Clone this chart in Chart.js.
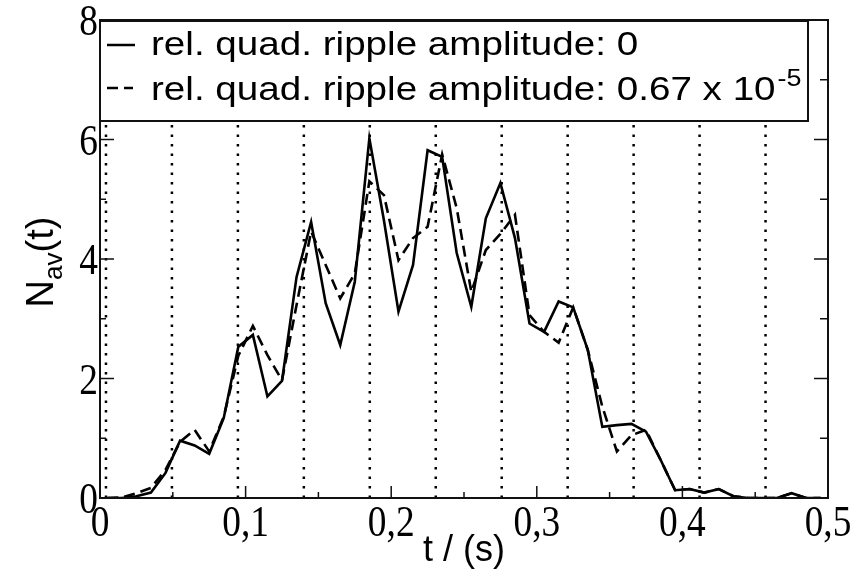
<!DOCTYPE html>
<html>
<head>
<meta charset="utf-8">
<script src="https://cdn.jsdelivr.net/npm/chart.js@4.4.1/dist/chart.umd.min.js"></script>
<style>
  html, body { margin: 0; padding: 0; background: #fff; }
</style>
</head>
<body>
<canvas id="grafico" width="867" height="574"></canvas>
<script>
// tiempos (s), centro de cada intervalo
const tiempos = [0.005, 0.015, 0.025, 0.035, 0.045, 0.055, 0.065, 0.075, 0.085, 0.095,
  0.105, 0.115, 0.125, 0.135, 0.145, 0.155, 0.165, 0.175, 0.185, 0.195,
  0.205, 0.215, 0.225, 0.235, 0.245, 0.255, 0.265, 0.275, 0.285, 0.295,
  0.305, 0.315, 0.325, 0.335, 0.345, 0.355, 0.365, 0.375, 0.385, 0.395,
  0.405, 0.415, 0.425, 0.435, 0.445, 0.455, 0.465, 0.475, 0.485, 0.495];

// amplitud de rizado 0 (linea continua)
const nSinRizado = [0, 0, 0.03, 0.09, 0.42, 0.96, 0.88, 0.74, 1.34, 2.53,
  2.73, 1.70, 1.96, 3.70, 4.62, 3.26, 2.56, 3.62, 6.02, 4.65,
  3.12, 3.90, 5.82, 5.71, 4.10, 3.20, 4.68, 5.27, 4.35, 2.92,
  2.78, 3.29, 3.19, 2.48, 1.19, 1.22, 1.24, 1.11, 0.64, 0.13,
  0.15, 0.09, 0.15, 0.03, 0, 0, 0, 0.08, 0, 0];

// amplitud de rizado 0.67e-5 (linea discontinua)
const nConRizado = [0, 0.01, 0.08, 0.17, 0.47, 0.94, 1.14, 0.78, 1.36, 2.38,
  2.88, 2.39, 1.97, 3.23, 4.46, 3.90, 3.34, 3.76, 5.30, 5.07,
  3.98, 4.35, 4.54, 5.75, 4.85, 3.45, 4.15, 4.42, 4.74, 3.06,
  2.78, 2.60, 3.19, 2.48, 1.53, 0.78, 1.05, 1.14, 0.64, 0.13,
  0.15, 0.09, 0.15, 0.03, 0, 0, 0, 0.08, 0, 0];

// lineas verticales punteadas
const marcasPunteadas = [0.0041, 0.0494, 0.0947, 0.1400, 0.1853, 0.2306, 0.2759, 0.3212, 0.3665, 0.4118, 0.4571];

const etiquetasSerie = ['rel. quad. ripple amplitude: 0', 'rel. quad. ripple amplitude: 0.67 x 10'];
const superindices = ['', '-5'];

const ticksX = [0, 0.1, 0.2, 0.3, 0.4, 0.5];
const menoresX = [0.05, 0.15, 0.25, 0.35, 0.45];
const ticksY = [0, 2, 4, 6, 8];
const menoresY = [1, 3, 5, 7];

const SERIF = '"Liberation Serif", "Times New Roman", serif';
const SANS = '"Liberation Sans", Arial, sans-serif';

function aPuntos(ys) {
  return tiempos.map((t, i) => ({ x: t, y: ys[i] }));
}

function textoEscalado(ctx, texto, x, y, sx, align) {
  ctx.save();
  ctx.translate(x, y);
  ctx.scale(sx, 1);
  ctx.textAlign = align;
  ctx.fillText(texto, 0, 0);
  ctx.restore();
}

function linea(ctx, x1, y1, x2, y2) {
  ctx.beginPath();
  ctx.moveTo(x1, y1);
  ctx.lineTo(x2, y2);
  ctx.stroke();
}

const decoracion = {
  id: 'decoracion',
  afterDatasetsDraw(chart) {
    const { ctx, chartArea: a, scales: { x, y } } = chart;
    ctx.save();
    ctx.strokeStyle = '#111';
    ctx.fillStyle = '#000';

    // marcas de los ejes (hacia dentro)
    ctx.lineWidth = 1.5;
    ticksX.forEach(v => { const p = x.getPixelForValue(v); linea(ctx, p, a.bottom, p, a.bottom - 12); });
    menoresX.forEach(v => { const p = x.getPixelForValue(v); linea(ctx, p, a.bottom, p, a.bottom - 6); });
    ticksY.forEach(v => {
      const p = y.getPixelForValue(v);
      linea(ctx, a.left, p, a.left + 14, p);
      linea(ctx, a.right, p, a.right - 14, p);
    });
    menoresY.forEach(v => {
      const p = y.getPixelForValue(v);
      linea(ctx, a.left, p, a.left + 6, p);
      linea(ctx, a.right, p, a.right - 8, p);
    });

    // marco
    ctx.lineWidth = 2;
    ctx.strokeRect(a.left, a.top, a.right - a.left, a.bottom - a.top);

    // etiquetas de los ejes
    ctx.font = '44px ' + SERIF;
    ctx.textBaseline = 'alphabetic';
    ticksX.forEach(v => {
      const txt = v === 0 ? '0' : v.toFixed(1).replace('.', ',');
      textoEscalado(ctx, txt, x.getPixelForValue(v), a.bottom + 38, 0.85, 'center');
    });
    ticksY.forEach(v => {
      textoEscalado(ctx, String(v), a.left - 2, y.getPixelForValue(v) + 15, 0.85, 'right');
    });

    // titulo eje x
    ctx.font = '36px ' + SANS;
    ctx.textAlign = 'center';
    ctx.fillText('t / (s)', (a.left + a.right) / 2, 561);

    // titulo eje y: N_av(t)
    ctx.save();
    ctx.translate(53, 262);
    ctx.rotate(-Math.PI / 2);
    ctx.textAlign = 'left';
    const fGrande = '38px ' + SANS, fSub = '26px ' + SANS;
    ctx.font = fGrande; const wN = ctx.measureText('N').width; const wT = ctx.measureText('(t)').width;
    ctx.font = fSub; const wSub = ctx.measureText('av').width;
    let u = -(wN + wSub + wT) / 2;
    ctx.font = fGrande; ctx.fillText('N', u, 0); u += wN;
    ctx.font = fSub; ctx.fillText('av', u, 9); u += wSub;
    ctx.font = fGrande; ctx.fillText('(t)', u, 0);
    ctx.restore();

    // leyenda
    const lx = a.left, ly = 21, lw = 708, lh = 100;
    ctx.fillStyle = '#fff';
    ctx.fillRect(lx, ly, lw, lh);
    ctx.lineWidth = 2;
    ctx.strokeRect(lx, ly, lw, lh);
    ctx.fillStyle = '#000';
    ctx.strokeStyle = '#000';
    const filas = [{ sim: 45, base: 55 }, { sim: 88, base: 100 }];
    chart.data.datasets.slice(0, 2).forEach((ds, i) => {
      ctx.lineWidth = 2.5;
      ctx.setLineDash(ds.borderDash || []);
      linea(ctx, lx + 7, filas[i].sim, lx + (i === 0 ? 35 : 33), filas[i].sim);
      ctx.setLineDash([]);
      ctx.font = '33px ' + SANS;
      ctx.textAlign = 'left';
      textoEscalado(ctx, etiquetasSerie[i], lx + 51, filas[i].base, 1.17, 'left');
      if (superindices[i]) {
        const w = ctx.measureText(etiquetasSerie[i]).width * 1.17;
        ctx.font = '23px ' + SANS;
        textoEscalado(ctx, superindices[i], lx + 53 + w, filas[i].base - 14, 1.17, 'left');
      }
    });
    ctx.restore();
  }
};

const datasetsPunteados = marcasPunteadas.map(t => ({
  data: [{ x: t, y: 0 }, { x: t, y: 8 }],
  borderColor: '#000',
  borderWidth: 2.5,
  borderDash: [2.5, 7],
  pointRadius: 0,
  showLine: true
}));

new Chart(document.getElementById('grafico'), {
  type: 'scatter',
  data: {
    datasets: [{
      label: etiquetasSerie[0],
      data: aPuntos(nSinRizado),
      borderColor: '#000',
      borderWidth: 2.6,
      pointRadius: 0,
      showLine: true
    }, {
      label: etiquetasSerie[1],
      data: aPuntos(nConRizado),
      borderColor: '#000',
      borderWidth: 2.6,
      borderDash: [11, 6],
      pointRadius: 0,
      showLine: true
    }, ...datasetsPunteados]
  },
  options: {
    responsive: false,
    devicePixelRatio: 1,
    animation: false,
    layout: { padding: { left: 0, right: 39, top: 20, bottom: 0 } },
    plugins: { legend: { display: false }, tooltip: { enabled: false } },
    scales: {
      x: {
        type: 'linear', min: 0, max: 0.5,
        grid: { display: false }, border: { display: false },
        ticks: { display: false },
        afterFit: s => { s.height = 76; }
      },
      y: {
        type: 'linear', min: 0, max: 8,
        grid: { display: false }, border: { display: false },
        ticks: { display: false },
        afterFit: s => { s.width = 100; }
      }
    }
  },
  plugins: [decoracion]
});
</script>
</body>
</html>
